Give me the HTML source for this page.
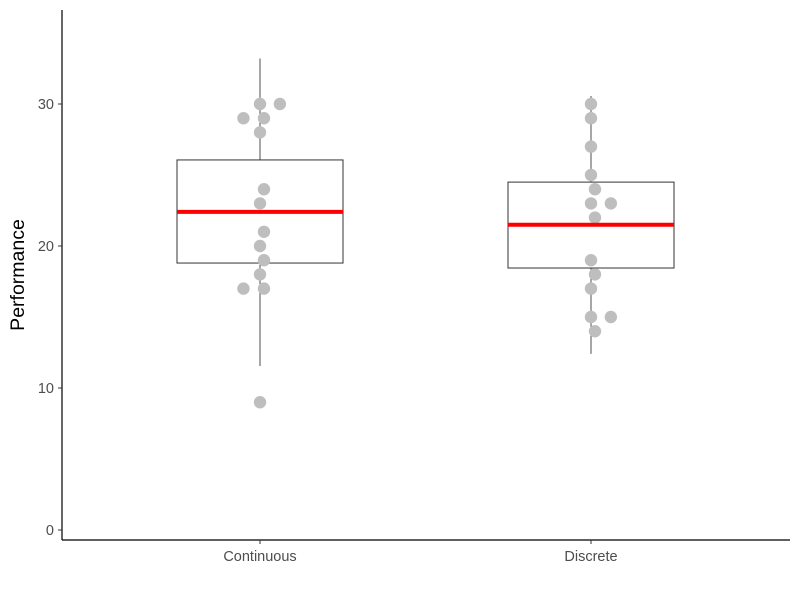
<!DOCTYPE html>
<html><head><meta charset="utf-8"><style>
body{margin:0;background:#fff}
svg text{font-family:"Liberation Sans",sans-serif}
</style></head><body>
<svg id="chart" width="800" height="600" xmlns="http://www.w3.org/2000/svg">
<g id="plot"></g>
</svg>
<script>
const categories=["Continuous","Discrete"];
const boxQ1=[18.8,18.45];
const boxMedian=[22.4,21.5];
const boxQ3=[26.06,24.5];
const whiskerLow=[11.55,12.4];
const whiskerHigh=[33.2,30.56];
const pointsCont=[30,30,29,29,28,24,23,21,20,19,18,17,17,9];
const jitterCont=[0,0.06,-0.05,0.012,0,0.012,0,0.012,0,0.012,0,-0.05,0.012,0];
const pointsDisc=[30,29,27,25,24,23,23,22,19,18,17,15,15,14];
const jitterDisc=[0,0,0,0,0.012,0,0.06,0.012,0,0.012,0,0,0.06,0.012];
const yTicks=[0,10,20,30];

const NS="http://www.w3.org/2000/svg";
const g=document.getElementById('plot');
const y=v=>530-v*14.2;
const x=i=>260+i*331;
function mk(t,a,parent){const e=document.createElementNS(NS,t);for(const k in a)e.setAttribute(k,a[k]);(parent||g).appendChild(e);return e;}

let e=mk('line',{x1:62,y1:10,x2:62,y2:540,stroke:'#000','stroke-width':1.2});


e=mk('line',{x1:62,y1:540,x2:790,y2:540,stroke:'#000','stroke-width':1.2});


yTicks.forEach(t=>{
  mk('line',{x1:58,x2:62,y1:y(t),y2:y(t),stroke:'#333'});
  const tx=mk('text',{x:54,y:y(t)+5,'text-anchor':'end','font-size':14.5,fill:'#4d4d4d'});
  tx.textContent=t;
  
  
});
e=mk('text',{x:0,y:0,transform:'translate(24,275) rotate(-90)','text-anchor':'middle','font-size':19.5,fill:'#000'});
e.textContent='Performance';



categories.forEach((c,i)=>{
  const cx=x(i);
  mk('line',{x1:cx,x2:cx,y1:540,y2:544,stroke:'#333'});
  const tx=mk('text',{x:cx,y:561,'text-anchor':'middle','font-size':14.5,fill:'#4d4d4d'});
  tx.textContent=c;
  
  
  const w=mk('line',{x1:cx,x2:cx,y1:y(whiskerHigh[i]),y2:y(whiskerLow[i]),stroke:'#222','stroke-width':0.8});
  
  
  const hw=83;
  const b=mk('rect',{x:cx-hw,y:y(boxQ3[i]),width:hw*2,height:y(boxQ1[i])-y(boxQ3[i]),fill:'#fff',stroke:'#333','stroke-width':1});
  
  
});
[[pointsCont,jitterCont],[pointsDisc,jitterDisc]].forEach(([pts,jit],i)=>{
  pts.forEach((v,k)=>{
    const p=mk('circle',{cx:x(i+jit[k]),cy:y(v),r:6.2,fill:'#bebebe'});
    
    
  });
});
categories.forEach((c,i)=>{
  const m=mk('line',{x1:x(i)-83,x2:x(i)+83,y1:y(boxMedian[i]),y2:y(boxMedian[i]),stroke:'#ff0000','stroke-width':4});
  
  
});
</script>
</body></html>
